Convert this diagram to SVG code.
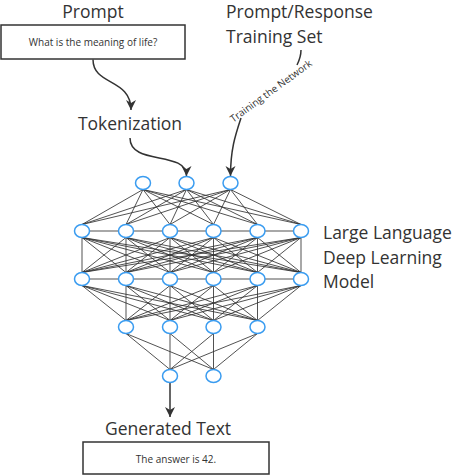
<svg xmlns="http://www.w3.org/2000/svg" width="453" height="476" viewBox="0 0 453 476">
<style>
text{font-family:"Open Sans","Liberation Sans",sans-serif;fill:#333;}
.t17{font-size:17.5px;}
.t10{font-size:10px;}
.box{fill:#fff;stroke:#333;stroke-width:1.5;}
.node{fill:#fff;stroke:#3a9cf0;stroke-width:1.5;}
.edge{fill:none;stroke:#333;stroke-width:0.85;}
.arr{fill:none;stroke:#333;stroke-width:1.5;}
</style>
<defs>
<marker id="ah" markerUnits="userSpaceOnUse" markerWidth="12" markerHeight="12" viewBox="0 -6 11 12" refX="10" refY="0" orient="auto">
<path d="M0,-5 L10,0 L0,5 L3,0 Z" fill="#333"/>
</marker>
</defs>
<rect width="453" height="476" fill="#fff"/>

<g id="connectors">
<path class="edge" d="M143,189.5L82,224.5M143,189.5L126,224.5M143,189.5L170,224.5M143,189.5L213.5,224.5M143,189.5L257.5,224.5M143,189.5L301,224.5M186.5,189.5L82,224.5M186.5,189.5L126,224.5M186.5,189.5L170,224.5M186.5,189.5L213.5,224.5M186.5,189.5L257.5,224.5M186.5,189.5L301,224.5M230.5,189.5L82,224.5M230.5,189.5L126,224.5M230.5,189.5L170,224.5M230.5,189.5L213.5,224.5M230.5,189.5L257.5,224.5M230.5,189.5L301,224.5"/>
<path class="edge" d="M89.5,231H118.5M133.5,231H162.5M177.5,231H206M221,231H250M265,231H293.5M89.5,279H118.5M133.5,279H162.5M177.5,279H206M221,279H250M265,279H293.5"/>
<path class="edge" d="M82,237.5L82,272.5M82,237.5L126,272.5M82,237.5L170,272.5M82,237.5L213.5,272.5M82,237.5L257.5,272.5M82,237.5L301,272.5M126,237.5L82,272.5M126,237.5L126,272.5M126,237.5L170,272.5M126,237.5L213.5,272.5M126,237.5L257.5,272.5M126,237.5L301,272.5M170,237.5L82,272.5M170,237.5L126,272.5M170,237.5L170,272.5M170,237.5L213.5,272.5M170,237.5L257.5,272.5M170,237.5L301,272.5M213.5,237.5L82,272.5M213.5,237.5L126,272.5M213.5,237.5L170,272.5M213.5,237.5L213.5,272.5M213.5,237.5L257.5,272.5M213.5,237.5L301,272.5M257.5,237.5L82,272.5M257.5,237.5L126,272.5M257.5,237.5L170,272.5M257.5,237.5L213.5,272.5M257.5,237.5L257.5,272.5M257.5,237.5L301,272.5M301,237.5L82,272.5M301,237.5L126,272.5M301,237.5L170,272.5M301,237.5L213.5,272.5M301,237.5L257.5,272.5M301,237.5L301,272.5"/>
<path class="edge" d="M82,285.5L126,320.5M82,285.5L170,320.5M82,285.5L213.5,320.5M82,285.5L257.5,320.5M126,285.5L126,320.5M126,285.5L170,320.5M126,285.5L213.5,320.5M126,285.5L257.5,320.5M170,285.5L126,320.5M170,285.5L170,320.5M170,285.5L213.5,320.5M170,285.5L257.5,320.5M213.5,285.5L126,320.5M213.5,285.5L170,320.5M213.5,285.5L213.5,320.5M213.5,285.5L257.5,320.5M257.5,285.5L126,320.5M257.5,285.5L170,320.5M257.5,285.5L213.5,320.5M257.5,285.5L257.5,320.5M301,285.5L126,320.5M301,285.5L170,320.5M301,285.5L213.5,320.5M301,285.5L257.5,320.5"/>
<path class="edge" d="M126,333.5L170,369.5M126,333.5L213.5,369.5M170,333.5L170,369.5M170,333.5L213.5,369.5M213.5,333.5L170,369.5M213.5,333.5L213.5,369.5M257.5,333.5L170,369.5M257.5,333.5L213.5,369.5"/>
<path class="arr" d="M93,59.5C93,86 131,78 131,110" marker-end="url(#ah)"/>
<path class="arr" d="M130,138C130,166 186.5,150 186.5,176" marker-end="url(#ah)"/>
<path class="arr" d="M301,50C301,56 299,61 297,65"/>
<path class="arr" d="M241,118C235,136 230.5,150 230.5,176" marker-end="url(#ah)"/>
<path class="arr" d="M170,383V417" marker-end="url(#ah)"/>
<text transform="translate(271,91) rotate(-36)" x="0" y="3.5" text-anchor="middle" style="font-size:10px">Training the Network</text>
</g>

<g id="prompt">
<text class="t17" x="93" y="18" text-anchor="middle">Prompt</text>
<rect class="box" x="1" y="25" width="184" height="34"/>
<text class="t10" x="93" y="46" text-anchor="middle">What is the meaning of life?</text>
</g>
<g id="tokenization"><text class="t17" x="130" y="130" text-anchor="middle">Tokenization</text></g>
<g id="training-set">
<text class="t17" x="226" y="18">Prompt/Response</text>
<text class="t17" x="226" y="43">Training Set</text>
</g>
<g id="model-label">
<text class="t17" x="323" y="239">Large Language</text>
<text class="t17" x="323" y="264">Deep Learning</text>
<text class="t17" x="323" y="288">Model</text>
</g>
<g id="generated">
<text class="t17" x="168" y="435" text-anchor="middle">Generated Text</text>
<rect class="box" x="83" y="442" width="186" height="32"/>
<text class="t10" x="176" y="463" text-anchor="middle">The answer is 42.</text>
</g>

<g id="n1-1"><ellipse class="node" cx="143" cy="183" rx="7.5" ry="6.5"/></g>
<g id="n1-2"><ellipse class="node" cx="186.5" cy="183" rx="7.5" ry="6.5"/></g>
<g id="n1-3"><ellipse class="node" cx="230.5" cy="183" rx="7.5" ry="6.5"/></g>
<g id="n2-1"><ellipse class="node" cx="82" cy="231" rx="7.5" ry="6.5"/></g>
<g id="n2-2"><ellipse class="node" cx="126" cy="231" rx="7.5" ry="6.5"/></g>
<g id="n2-3"><ellipse class="node" cx="170" cy="231" rx="7.5" ry="6.5"/></g>
<g id="n2-4"><ellipse class="node" cx="213.5" cy="231" rx="7.5" ry="6.5"/></g>
<g id="n2-5"><ellipse class="node" cx="257.5" cy="231" rx="7.5" ry="6.5"/></g>
<g id="n2-6"><ellipse class="node" cx="301" cy="231" rx="7.5" ry="6.5"/></g>
<g id="n3-1"><ellipse class="node" cx="82" cy="279" rx="7.5" ry="6.5"/></g>
<g id="n3-2"><ellipse class="node" cx="126" cy="279" rx="7.5" ry="6.5"/></g>
<g id="n3-3"><ellipse class="node" cx="170" cy="279" rx="7.5" ry="6.5"/></g>
<g id="n3-4"><ellipse class="node" cx="213.5" cy="279" rx="7.5" ry="6.5"/></g>
<g id="n3-5"><ellipse class="node" cx="257.5" cy="279" rx="7.5" ry="6.5"/></g>
<g id="n3-6"><ellipse class="node" cx="301" cy="279" rx="7.5" ry="6.5"/></g>
<g id="n4-1"><ellipse class="node" cx="126" cy="327" rx="7.5" ry="6.5"/></g>
<g id="n4-2"><ellipse class="node" cx="170" cy="327" rx="7.5" ry="6.5"/></g>
<g id="n4-3"><ellipse class="node" cx="213.5" cy="327" rx="7.5" ry="6.5"/></g>
<g id="n4-4"><ellipse class="node" cx="257.5" cy="327" rx="7.5" ry="6.5"/></g>
<g id="n5-1"><ellipse class="node" cx="170" cy="376" rx="7.5" ry="6.5"/></g>
<g id="n5-2"><ellipse class="node" cx="213.5" cy="376" rx="7.5" ry="6.5"/></g>
</svg>
